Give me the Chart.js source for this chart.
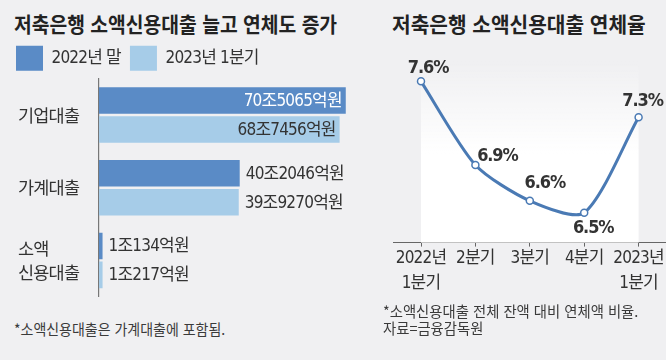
<!DOCTYPE html>
<html lang="ko">
<head>
<meta charset="utf-8">
<script src="https://cdn.jsdelivr.net/npm/chart.js@4/dist/chart.umd.min.js"></script>
<style>
  html, body { margin: 0; padding: 0; }
  body { width: 666px; height: 360px; overflow: hidden; background: #f0f0f2; position: relative;
         font-family: 'Noto Sans CJK KR', sans-serif; }
  .title { position: absolute; font-size: 21px; font-weight: 700; color: #222; line-height: 1;
           white-space: nowrap; transform-origin: 0 0; }
  .note { position: absolute; font-size: 14.5px; color: #3a3a3a; line-height: 17px;
          white-space: nowrap; transform-origin: 0 0; }
  .box { position: absolute; }
</style>
</head>
<body>
<div class="title" style="left:14px;top:13px;transform:scaleX(0.918)">저축은행 소액신용대출 늘고 연체도 증가</div>
<div class="title" style="left:392px;top:13px;transform:scaleX(0.965)">저축은행 소액신용대출 연체율</div>
<div class="box" style="left:0;top:0;width:360px;height:312px"><canvas id="barChart"></canvas></div>
<div class="box" style="left:380px;top:40px;width:300px;height:263px"><canvas id="lineChart"></canvas></div>
<div class="note" style="left:14px;top:320px;transform:scaleX(0.964)">*소액신용대출은 가계대출에 포함됨.</div>
<div class="note" style="left:383px;top:302px;transform:scaleX(0.99)">*소액신용대출 전체 잔액 대비 연체액 비율.<br>자료=금융감독원</div>
<script>
// ---- data ----
const loanCategories = ['기업대출', '가계대출', ['소액', '신용대출']];
const seriesNames = ['2022년 말', '2023년 1분기'];
const loans2022End = [70.5065, 40.2046, 1.0134];   // 조원
const loans2023Q1 = [68.7456, 39.9270, 1.0217];    // 조원
const quarters = [['2022년', '1분기'], '2분기', '3분기', '4분기', ['2023년', '1분기']];
const delinquencyRate = [7.6, 6.9, 6.6, 6.5, 7.3]; // %

// ---- style ----
const FONT = "'Liberation Sans Narrow','DejaVu Sans Condensed','Noto Sans CJK KR',sans-serif";
const CJK = "'Noto Sans CJK KR',sans-serif";
const DARK = '#5a8bc6';
const LIGHT = '#a6cce8';
const LINE = '#4a7ab4';
const TEXT = '#333';
// label offsets relative to each point (style only)
const pointLabelOffsets = [[7, -13], [22, -9], [15, -17], [9, 16], [4, -15.5]];

function fmtLoan(v) {
  const jo = Math.floor(v);
  const eok = Math.round((v - jo) * 10000);
  return jo + '조' + eok + '억원';
}

Chart.defaults.animation = false;
Chart.defaults.font.family = FONT;

function condensed(spacing) {
  const set = chart => { if ('letterSpacing' in chart.ctx) chart.ctx.letterSpacing = spacing; };
  return { id: 'condensed', beforeUpdate: set, beforeLayout: set, beforeDraw: set };
}

const barValueLabels = {
  id: 'barValueLabels',
  afterLayout(chart) {
    const y = chart.scales.y;
    if (y) y.left += 11;
  },
  afterDatasetsDraw(chart) {
    const ctx = chart.ctx;
    const insideColors = ['#fff', TEXT];
    ctx.save();
    ctx.font = '17px ' + FONT;
    ctx.textBaseline = 'middle';
    chart.data.datasets.forEach((ds, di) => {
      chart.getDatasetMeta(di).data.forEach((bar, i) => {
        const text = fmtLoan(ds.data[i]);
        const w = ctx.measureText(text).width;
        if (bar.x + 6 + w > chart.chartArea.right) {
          ctx.textAlign = 'right';
          ctx.fillStyle = insideColors[di];
          ctx.fillText(text, bar.x - 4, bar.y + 1);
        } else {
          ctx.textAlign = 'left';
          ctx.fillStyle = TEXT;
          ctx.fillText(text, bar.x + 6, bar.y + 1);
        }
      });
    });
    ctx.restore();
  }
};

new Chart(document.getElementById('barChart'), {
  type: 'bar',
  data: {
    labels: loanCategories,
    datasets: [
      { label: seriesNames[0], data: loans2022End, backgroundColor: DARK, borderWidth: 0,
        categoryPercentage: 0.796, barPercentage: 0.918 },
      { label: seriesNames[1], data: loans2023Q1, backgroundColor: LIGHT, borderWidth: 0,
        categoryPercentage: 0.796, barPercentage: 0.918 }
    ]
  },
  options: {
    indexAxis: 'y',
    responsive: true,
    maintainAspectRatio: false,
    layout: { padding: { left: 7, top: 36.7, right: 5.5, bottom: 1.5 } },
    plugins: {
      legend: {
        position: 'top', align: 'start', maxHeight: 42,
        labels: { boxWidth: 27, boxHeight: 25, padding: 9, color: TEXT,
                  font: { size: 17, family: FONT } }
      },
      tooltip: { enabled: false }
    },
    scales: {
      x: { display: false, min: 0, max: 73 },
      y: {
        grid: { display: false },
        border: { display: true, color: '#777', width: 1.2 },
        ticks: { crossAlign: 'far', color: TEXT, font: { size: 17.5, family: CJK, lineHeight: 1.4 } },
        afterFit(scale) { scale.width = 92; }
      }
    }
  },
  plugins: [condensed('-0.8px'), barValueLabels]
});

const lineExtras = {
  id: 'lineExtras',
  beforeDatasetsDraw(chart) {
    const ctx = chart.ctx;
    const xs = chart.scales.x;
    const x0 = xs.getPixelForValue(0);
    const x1 = xs.getPixelForValue(quarters.length - 1);
    const { top, bottom } = chart.chartArea;
    const g = ctx.createLinearGradient(0, top + 15, 0, top + 110);
    g.addColorStop(0, 'rgba(255,255,255,0)');
    g.addColorStop(1, 'rgba(255,255,255,1)');
    ctx.save();
    ctx.fillStyle = g;
    ctx.fillRect(x0, top, x1 - x0, bottom - top);
    ctx.restore();
  },
  afterDatasetsDraw(chart) {
    const ctx = chart.ctx;
    const meta = chart.getDatasetMeta(0);
    ctx.save();
    if ('letterSpacing' in ctx) ctx.letterSpacing = '-1.1px';
    ctx.font = 'bold 18px ' + FONT;
    ctx.fillStyle = TEXT;
    ctx.textAlign = 'center';
    ctx.textBaseline = 'middle';
    meta.data.forEach((pt, i) => {
      const [dx, dy] = pointLabelOffsets[i];
      ctx.fillText(delinquencyRate[i].toFixed(1) + '%', pt.x + dx, pt.y + dy);
    });
    ctx.restore();
  }
};

new Chart(document.getElementById('lineChart'), {
  type: 'line',
  data: {
    labels: quarters,
    datasets: [{
      data: delinquencyRate,
      borderColor: LINE, borderWidth: 3, tension: 0.25, fill: false, clip: false,
      pointRadius: 3.5, pointBackgroundColor: '#fff', pointBorderColor: LINE, pointBorderWidth: 1.5
    }]
  },
  options: {
    responsive: true,
    maintainAspectRatio: false,
    layout: { padding: { left: 13.8, right: 14.2, top: 2.6, bottom: 0.4 } },
    plugins: { legend: { display: false }, tooltip: { enabled: false } },
    scales: {
      x: {
        offset: true,
        grid: { display: true, drawOnChartArea: false, drawTicks: true, tickLength: 4, tickColor: '#666', offset: false },
        border: { display: true, color: '#666', width: 1 },
        ticks: { color: TEXT, padding: 0, maxRotation: 0, autoSkip: false,
                 font: { size: 17, family: FONT, lineHeight: 1.45 } },
        afterFit(scale) { scale.height = 60; }
      },
      y: { display: false, min: 6.25, max: 7.9 }
    }
  },
  plugins: [condensed('-0.8px'), lineExtras]
});
</script>
</body>
</html>
